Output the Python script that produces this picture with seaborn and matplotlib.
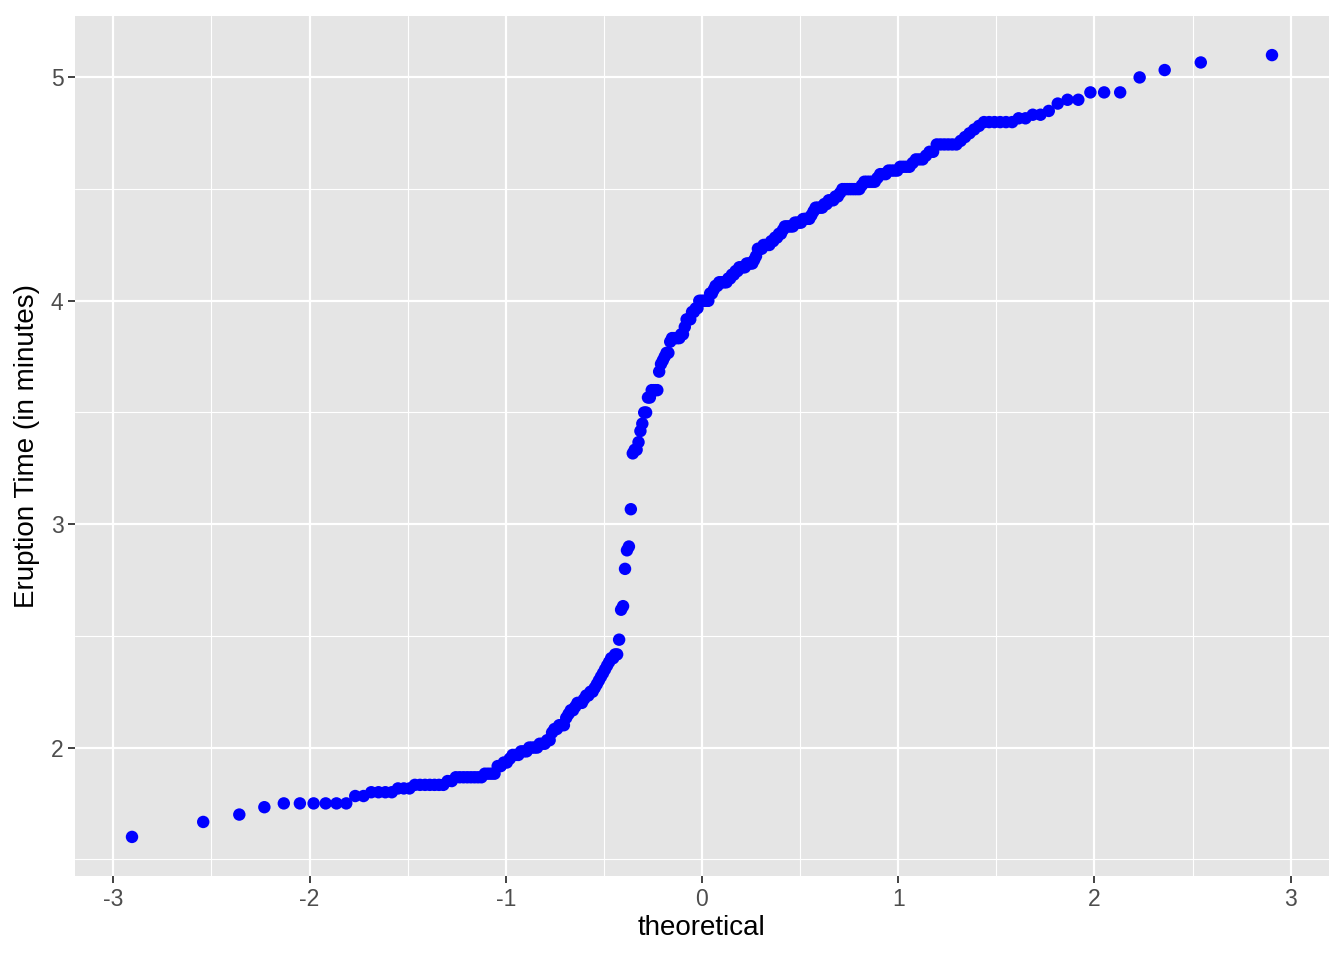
import matplotlib
matplotlib.use("Agg")
import matplotlib.pyplot as plt
import seaborn as sns
import pandas as pd
import numpy as np
from statistics import NormalDist

# Old Faithful eruption durations (minutes)
eruptions = [
    3.600, 1.800, 3.333, 2.283, 4.533, 2.883, 4.700, 3.600, 1.950, 4.350,
    1.833, 3.917, 4.200, 1.750, 4.700, 2.167, 1.750, 4.800, 1.600, 4.250,
    1.800, 1.750, 3.450, 3.067, 4.533, 3.600, 1.967, 4.083, 3.850, 4.433,
    4.300, 4.467, 3.367, 4.033, 3.833, 2.017, 1.867, 4.833, 1.833, 4.783,
    4.350, 1.883, 4.567, 1.750, 4.533, 3.317, 3.833, 2.100, 4.633, 2.000,
    4.800, 4.716, 1.833, 4.833, 1.733, 4.883, 3.717, 1.667, 4.567, 4.317,
    2.233, 4.500, 1.750, 4.800, 1.817, 4.400, 4.167, 4.700, 2.067, 4.700,
    4.033, 1.967, 4.500, 4.000, 1.983, 5.067, 2.017, 4.567, 3.883, 3.600,
    4.133, 4.333, 4.100, 2.633, 4.067, 4.933, 3.950, 4.517, 2.167, 4.000,
    2.200, 4.333, 1.867, 4.817, 1.833, 4.300, 4.667, 3.750, 1.867, 4.900,
    2.483, 4.367, 2.100, 4.500, 4.050, 1.867, 4.700, 1.783, 4.850, 3.683,
    4.733, 2.300, 4.900, 4.417, 1.700, 4.633, 2.317, 4.600, 1.817, 4.417,
    2.617, 4.067, 4.250, 1.967, 4.600, 3.767, 1.917, 4.500, 2.267, 4.650,
    1.867, 4.167, 2.800, 4.333, 1.833, 4.383, 1.883, 4.933, 2.033, 3.733,
    4.233, 2.233, 4.533, 4.817, 4.333, 1.983, 4.633, 2.017, 5.100, 1.800,
    5.033, 4.000, 2.400, 4.600, 3.567, 4.000, 4.500, 4.083, 1.800, 3.967,
    2.200, 4.150, 2.000, 3.833, 3.500, 4.583, 2.367, 5.000, 1.933, 4.617,
    1.917, 2.083, 4.583, 3.333, 4.167, 4.333, 4.500, 2.417, 4.000, 4.167,
    1.883, 4.583, 4.250, 3.767, 2.033, 4.433, 4.083, 1.833, 4.417, 2.183,
    4.800, 1.833, 4.800, 4.100, 3.966, 4.233, 3.500, 4.366, 2.250, 4.667,
    2.100, 4.350, 4.133, 1.867, 4.600, 1.783, 4.367, 3.850, 1.933, 4.500,
    2.383, 4.700, 1.867, 3.833, 3.417, 4.233, 2.400, 4.800, 2.000, 4.150,
    1.867, 4.267, 1.750, 4.483, 4.000, 4.117, 4.083, 4.267, 3.917, 4.550,
    4.083, 2.417, 4.183, 2.217, 4.450, 1.883, 1.850, 4.283, 3.950, 2.333,
    4.150, 2.350, 4.933, 2.900, 4.583, 3.833, 2.083, 4.367, 2.133, 4.350,
    2.200, 4.450, 3.567, 4.500, 4.150, 3.817, 3.917, 4.450, 2.000, 4.283,
    4.767, 4.533, 1.850, 4.250, 1.983, 2.250, 4.750, 4.117, 2.150, 4.417,
    1.817, 4.467,
]
x_ticks = [-3, -2, -1, 0, 1, 2, 3]
y_ticks = [2, 3, 4, 5]

# QQ stat: sorted sample vs normal quantiles of ppoints(n)
n = len(eruptions)
sample = np.sort(eruptions)
theoretical = [NormalDist().inv_cdf((i - 0.5) / n) for i in range(1, n + 1)]
df = pd.DataFrame({"theoretical": theoretical, "sample": sample})

sns.set_theme(style="darkgrid", rc={
    "axes.facecolor": "#E5E5E5",
    "grid.color": "white",
    "axes.edgecolor": "none",
})
plt.rcParams["font.family"] = ["Liberation Sans", "DejaVu Sans"]

fig, ax = plt.subplots(figsize=(13.44, 9.6), dpi=100)
fig.subplots_adjust(left=75 / 1344, right=1329 / 1344, top=1 - 16 / 960, bottom=1 - 876 / 960)

sns.scatterplot(data=df, x="theoretical", y="sample", color="blue", s=80,
                edgecolor="none", linewidth=0, ax=ax)

xmin, xmax = df["theoretical"].min(), df["theoretical"].max()
ymin, ymax = df["sample"].min(), df["sample"].max()
ax.set_xlim(xmin - 0.05 * (xmax - xmin), xmax + 0.05 * (xmax - xmin))
ax.set_ylim(ymin - 0.05 * (ymax - ymin), ymax + 0.05 * (ymax - ymin))

ax.set_xticks(x_ticks)
ax.set_xticklabels([str(t) for t in x_ticks])
ax.set_yticks(y_ticks)
ax.set_yticklabels([str(t) for t in y_ticks])
ax.set_xticks([t + 0.5 for t in x_ticks[:-1]], minor=True)
ax.set_yticks([1.5] + [t + 0.5 for t in y_ticks[:-1]], minor=True)
ax.grid(which="major", color="white", linewidth=1.6)
ax.grid(which="minor", color="white", linewidth=0.8)

ax.tick_params(which="major", length=5.3, width=1.3, color="#333333",
               labelsize=16.5, labelcolor="#4D4D4D", pad=3, bottom=True, left=True)
ax.tick_params(which="minor", length=0, bottom=False, left=False)

ax.set_xlabel("theoretical", fontsize=20, color="black", labelpad=3)
ax.set_ylabel("Eruption Time (in minutes)", fontsize=20, color="black", labelpad=8)

plt.savefig("out.png", dpi=100)
plt.close()
